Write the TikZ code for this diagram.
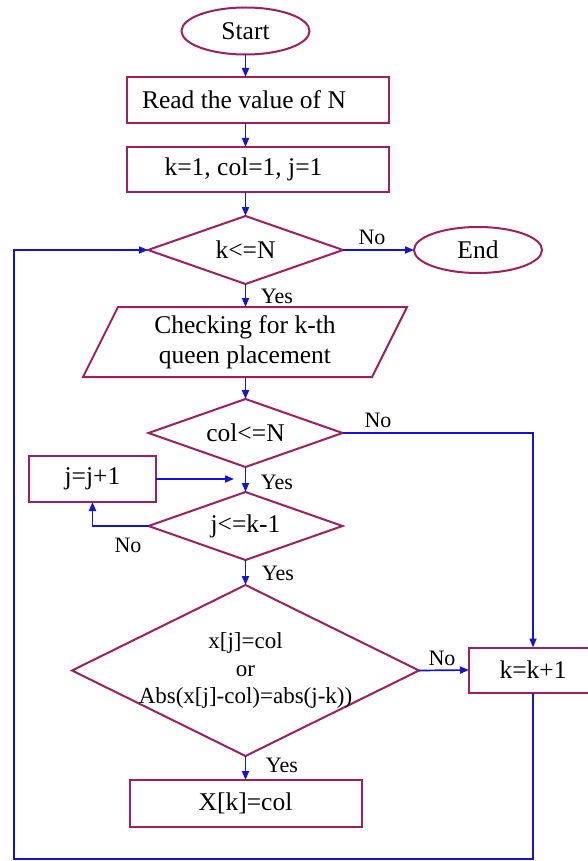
\documentclass[tikz,border=0pt]{standalone}
\usepackage{fontspec}
\setmainfont{Liberation Serif}
\usetikzlibrary{shapes.geometric,arrows.meta}
\definecolor{bord}{RGB}{160,30,100}
\definecolor{conn}{RGB}{20,20,215}
\tikzset{
  every node/.style={inner sep=0pt, outer sep=0pt},
  txt/.style={font=\fontsize{25.5}{30}\selectfont},
  lbl/.style={font=\fontsize{22}{26}\selectfont},
  boxn/.style={draw=bord, line width=2pt, rectangle, txt},
  ell/.style={draw=bord, line width=2pt, ellipse, txt},
  dia/.style={draw=bord, line width=2pt, diamond},
  arr/.style={draw=conn, line width=1.7pt, -{Triangle[length=9pt,width=7pt]}},
}
\begin{document}
\begin{tikzpicture}[x=1pt,y=-1pt]
\useasboundingbox (0,0) rectangle (587,861);
\fill[white] (0,0) rectangle (587,861);

\node[ell, minimum width=128, minimum height=47] (start) at (245.5,31) {Start};
\node[boxn, minimum width=262, minimum height=46] (read) at (258,100) {};
\node[txt] (readt) at (244,100) {Read the value of N};
\node[boxn, minimum width=262, minimum height=45] (init) at (258,169.5) {};
\node[txt] (initt) at (243.5,169.5) {k=1, col=1, j=1};
\node[dia, minimum width=195, minimum height=68] (kN) at (245.5,250) {};
\node[txt] (kNt) at (245.5,250) {k<=N};
\node[ell, minimum width=128, minimum height=46] (endn) at (478,250) {End};
\node[txt, align=center, minimum width=290, minimum height=70] (chk) at (245,342) {Checking for k-th\\queen placement};
\draw[bord, line width=2pt] (118,307) -- (407,307) -- (372,377) -- (83,377) -- cycle;
\node[dia, minimum width=194, minimum height=68] (colN) at (245.5,433) {};
\node[txt] (colNt) at (245.5,433) {col<=N};
\node[boxn, minimum width=127, minimum height=46] (jj) at (92.5,479) {j=j+1};
\node[dia, minimum width=194, minimum height=68] (jk) at (245.5,526) {};
\node[txt] (jkt) at (245.5,526) {j<=k-1};
\node[dia, minimum width=347, minimum height=171] (big) at (245.5,670.5) {};
\node[align=center, font=\fontsize{23}{27.5}\selectfont] (bigtxt) at (245.5,670.5) {x[j]=col\\or\\Abs(x[j]-col)=abs(j-k))};
\node[boxn, minimum width=128, minimum height=45] (kk) at (533,670) {k=k+1};
\node[boxn, minimum width=232, minimum height=47] (xk) at (245.5,803.5) {X[k]=col};

\coordinate (jjend) at (234,479);
\coordinate (bl) at (14,859);
\coordinate (tl) at (14,250);

% connectors
\draw[arr] (start.south) -- (start.south |- read.north);
\draw[arr] (start.south |- read.south) -- (start.south |- init.north);
\draw[arr] (kN.north |- init.south) -- (kN.north);
\draw[arr] (kN.east) -- (endn.west);
\draw[arr] (kN.south) -- (kN.south |- chk.north);
\draw[arr] (kN.south |- chk.south) -- (colN.north);
\draw[arr] (colN.east) -| (kk.north);
\draw[arr] (colN.south) -- (jk.north);
\draw[arr] (jj.east) -- (jjend);
\draw[arr] (jk.west) -| (jj.south);
\draw[arr] (jk.south) -- (big.north);
\draw[arr] (big.east) -- (kk.west);
\draw[arr] (big.south) -- (xk.north);
\draw[arr] (kk.south) -- (kk.south |- bl) -- (bl) -- (tl) -- (kN.west);

% labels
\node[lbl] (l1) at (372,237) {No};
\node[lbl] (l2) at (277,296) {Yes};
\node[lbl] (l3) at (378,420) {No};
\node[lbl] (l4) at (277,482) {Yes};
\node[lbl] (l5) at (128,545) {No};
\node[lbl] (l6) at (278,573) {Yes};
\node[lbl] (l7) at (442,658) {No};
\node[lbl] (l8) at (282,765) {Yes};
\end{tikzpicture}
\end{document}
